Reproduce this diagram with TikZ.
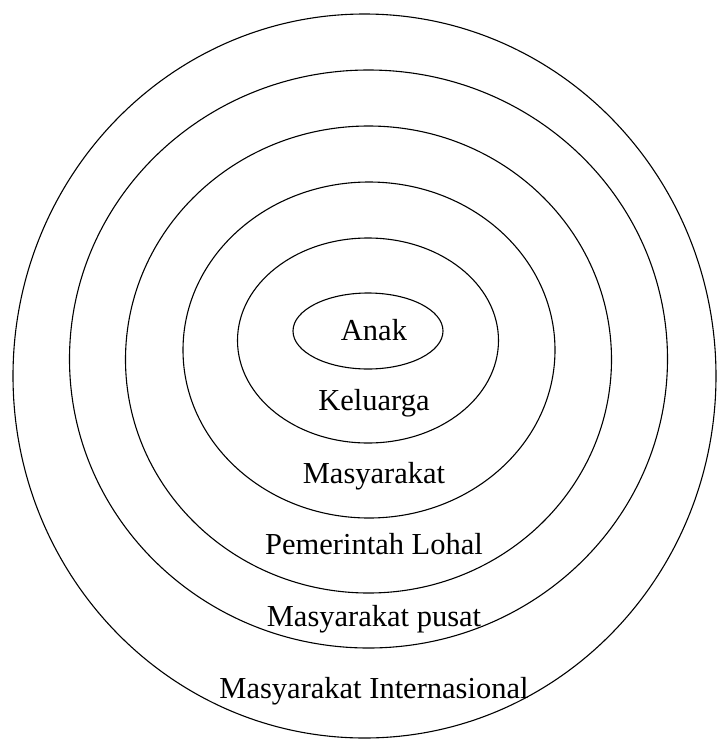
\documentclass[tikz,border=0pt]{standalone}
\usepackage{fontspec}
\setmainfont{Liberation Serif}
\begin{document}
\begin{tikzpicture}[x=1pt,y=-1pt,
  ring/.style={draw=black,line width=1.1pt},
  lbl/.style={inner sep=0pt,anchor=base,font=\fontsize{30.5}{36}\selectfont}]
\useasboundingbox (0,0) rectangle (716,740);
\draw[ring] (364.5,376) ellipse [x radius=351.5pt,y radius=362pt];
\draw[ring] (368.5,359) ellipse [x radius=299pt,y radius=289pt];
\draw[ring] (368.5,359.5) ellipse [x radius=243pt,y radius=233.5pt];
\draw[ring] (369,350) ellipse [x radius=186pt,y radius=168pt];
\draw[ring] (368,340.5) ellipse [x radius=130.5pt,y radius=102.5pt];
\draw[ring] (368,331) ellipse [x radius=75pt,y radius=38pt];
\node[lbl] (anak) at (374,340) {Anak};
\node[lbl] (kel) at (374,410.5) {Keluarga};
\node[lbl] (mas) at (374,483) {Masyarakat};
\node[lbl] (pem) at (374,554) {Pemerintah Lohal};
\node[lbl] (pus) at (374,626.5) {Masyarakat pusat};
\node[lbl] (int) at (374,698) {Masyarakat Internasional};
\end{tikzpicture}
\end{document}
